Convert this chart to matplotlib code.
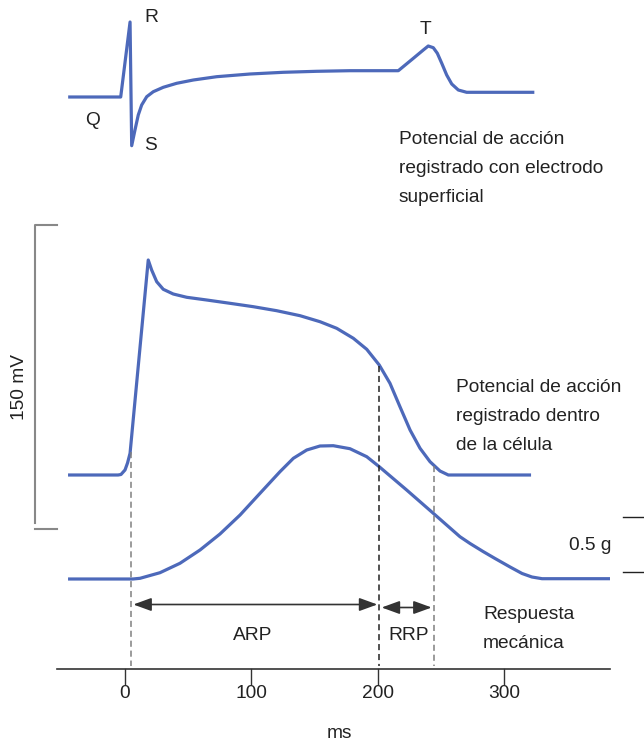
import matplotlib
matplotlib.use("Agg")
import matplotlib.pyplot as plt

plt.rcParams['font.family'] = ['Liberation Sans', 'DejaVu Sans']

# Time axis is in ms, vertical position in drawing units (0 = top of page)
ecg_t = [-45, -3.4, 4.0, 5.3, 7.9, 10.5, 13.2, 17.2, 22.4, 30.3, 40.9, 54.1, 72.6,
         99.0, 125.3, 151.8, 178.1, 216.4, 228.3, 236.2, 240.1, 244.1, 247.3,
         250.8, 254.7, 258.7, 263.9, 270.5, 324.1]
ecg_y = [97, 97, 22, 145.7, 130, 115, 105, 96.7, 91.7, 87.3, 83.3, 80, 76.7,
         74, 72.3, 71.3, 70.7, 70.7, 58.3, 50, 46, 47.7, 53.3,
         63.3, 75, 84, 90, 92.3, 92.3]

ap_t = [-45.1, -5.5, -3.2, 0.0, 2.0, 4.0, 18.4, 21.1, 25.1, 30.3, 38.2, 48.9, 64.7,
        83.1, 101.6, 120.1, 138.6, 154.4, 167.6, 180.8, 191.4, 201.3, 209.8,
        217.7, 225.7, 233.6, 241.5, 249.4, 256.0, 321.5]
ap_y = [475, 475, 474.5, 470, 463, 453.3, 260, 270, 281.7, 289.3, 294, 297.3, 300,
        303.3, 306.7, 310.7, 315.7, 321.7, 328.3, 338.3, 349.3, 365, 383.3,
        406.7, 430, 448.3, 461.7, 471, 475, 475]

mech_t = [-45.1, 6.3, 11.9, 27.7, 43.5, 59.4, 75.2, 91.1, 106.9, 122.7, 133.3, 143.9,
          154.4, 164.9, 178.1, 191.4, 201.3, 223.0, 244.1, 265.2, 273.2, 283.5,
          293.0, 304.9, 314.4, 322.2, 330.2, 384.0]
mech_y = [579, 579, 578.3, 572.7, 563.3, 550, 534, 515, 493.3, 471.7, 458.3, 450,
          446, 445.7, 448.7, 456.7, 466.7, 490, 513.3, 536.7, 543.5, 551.5,
          558.5, 567, 573.5, 577, 578.7, 578.7]

tick_vals = [0, 100, 200, 300]
arp = (6.6, 199.8)
rrp = (203.2, 242.8)
markers_t = [4.5, 201.3, 244.4]
markers_top = [452, 366, 466]

blue = '#4d69ba'
ink = '#222222'
px = 1.263   # drawing px per ms
fs = 13.8

fig = plt.figure(figsize=(6.44, 7.44), dpi=100)
ax = fig.add_axes([0, 0, 1, 1])
ax.set_xlim(-125 / px, (644 - 125) / px)
ax.set_ylim(744, 0)
ax.axis('off')

for tt, yy in [(ecg_t, ecg_y), (ap_t, ap_y), (mech_t, mech_y)]:
    ax.plot(tt, yy, color=blue, lw=2.3, solid_joinstyle='round',
            solid_capstyle='butt')

# dashed markers
cols = ['#808080', '#222222', '#808080']
for t0, top, c in zip(markers_t, markers_top, cols):
    ax.plot([t0, t0], [top, 666], color=c, lw=1.1, dashes=(4, 2.5))

# time axis
ax.plot([-53.8, 384], [669, 669], color='#333333', lw=1.2)
for v in tick_vals:
    ax.plot([v, v], [669, 684], color='#333333', lw=1.0)
    ax.text(v, 693, str(v), ha='center', va='center', fontsize=fs, color=ink)
ax.text(169.4, 733, 'ms', ha='center', va='center', fontsize=fs, color=ink)

# refractory period arrows
arrow = dict(arrowstyle='<|-|>,head_length=0.55,head_width=0.2', color='#333333',
             lw=1.2, shrinkA=0, shrinkB=0, mutation_scale=20)
ax.annotate('', xy=(arp[1], 604.5), xytext=(arp[0], 604.5), arrowprops=arrow)
ax.annotate('', xy=(rrp[1], 607.5), xytext=(rrp[0], 607.5), arrowprops=arrow)
ax.text(101.3, 635, 'ARP', ha='center', va='center', fontsize=fs, color=ink)
ax.text(224.3, 635, 'RRP', ha='center', va='center', fontsize=fs, color=ink)

# 150 mV scale bracket
gray = '#888888'
ax.plot([-53.8, -71.3, -71.3], [225, 225, 522.5], color=gray, lw=1.5)
ax.plot([-71.3, -53.8], [529, 529], color=gray, lw=1.5)
ax.text(-83.2, 387, '150 mV', rotation=90, ha='center', va='center',
        fontsize=fs, color=ink)

# 0.5 g scale
ax.plot([394.3, 411], [516.7, 516.7], color=ink, lw=1.0)
ax.plot([394.3, 411], [572, 572], color=ink, lw=1.0)
ax.text(368.7, 545, '0.5 g', ha='center', va='center', fontsize=fs, color=ink)

# wave labels
ax.text(20.6, 17, 'R', ha='center', va='center', fontsize=fs, color=ink)
ax.text(-25.9, 120.7, 'Q', ha='center', va='center', fontsize=fs, color=ink)
ax.text(19.8, 145.7, 'S', ha='center', va='center', fontsize=fs, color=ink)
ax.text(238.3, 30, 'T', ha='center', va='center', fontsize=fs, color=ink)

lines_ecg = ['Potencial de acción', 'registrado con electrodo', 'superficial']
for i, s in enumerate(lines_ecg):
    ax.text(216.9, 144 + 29 * i, s, ha='left', va='baseline', fontsize=fs, color=ink)

lines_ap = ['Potencial de acción', 'registrado dentro', 'de la célula']
for i, s in enumerate(lines_ap):
    ax.text(262.1, 392.3 + 29 * i, s, ha='left', va='baseline', fontsize=fs, color=ink)

lines_mech = ['Respuesta', 'mecánica']
for i, s in enumerate(lines_mech):
    ax.text(283.5, 619 + 29 * i, s, ha='left', va='baseline', fontsize=fs, color=ink)

fig.savefig('out.png', dpi=100)
